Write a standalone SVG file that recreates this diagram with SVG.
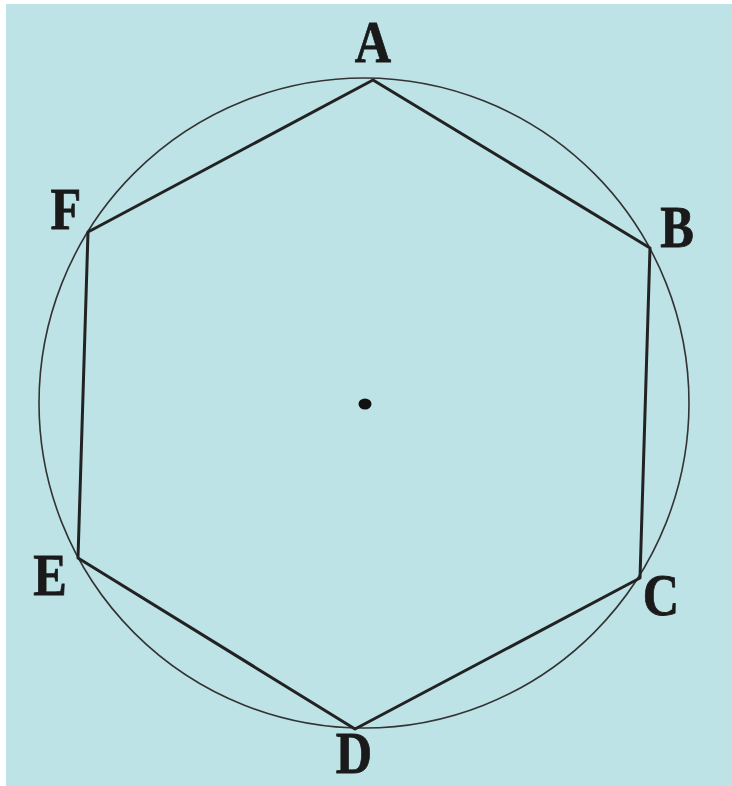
<svg xmlns="http://www.w3.org/2000/svg" width="732" height="786" viewBox="0 0 732 786">
<style>
.lbl{font-family:"Liberation Serif","Times New Roman",serif;font-weight:bold;font-size:60px;fill:#1a1a1a;stroke:#1a1a1a;stroke-width:0.8;text-anchor:middle}
.edge{stroke:#222;stroke-width:3;fill:none;stroke-linecap:round;stroke-linejoin:round}
</style>
<rect x="0" y="0" width="732" height="786" fill="#ffffff"/>
<rect x="6" y="4" width="726" height="782" fill="#bde3e6"/>
<g id="circle"><circle cx="364" cy="403" r="325" fill="none" stroke="#333" stroke-width="1.6"/></g>
<g id="connectors">
<polygon class="edge" points="373,80 650,248 640,578 355,729 78,558 88,232"/>
</g>
<g id="center"><ellipse cx="365" cy="404" rx="6.5" ry="5.5" fill="#111"/></g>
<g id="A"><text class="lbl" transform="translate(373,62) scale(0.84,1)">A</text></g>
<g id="B"><text class="lbl" transform="translate(677,247) scale(0.84,1)">B</text></g>
<g id="C"><text class="lbl" transform="translate(661,615) scale(0.84,1)">C</text></g>
<g id="D"><text class="lbl" transform="translate(354,773) scale(0.84,1)">D</text></g>
<g id="E"><text class="lbl" transform="translate(50,595) scale(0.84,1)">E</text></g>
<g id="F"><text class="lbl" transform="translate(66,229) scale(0.84,1)">F</text></g>
</svg>
